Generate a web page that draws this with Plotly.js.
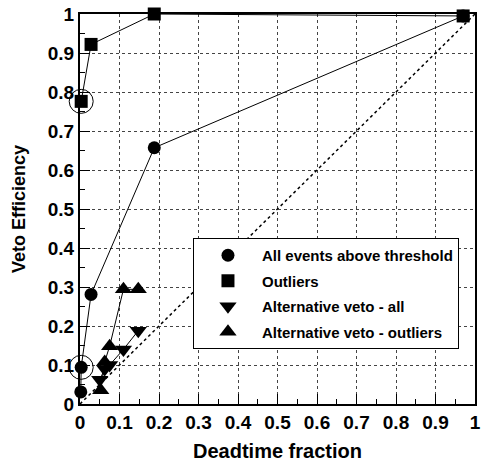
<!DOCTYPE html>
<html>
<head>
<meta charset="utf-8">
<script src="https://cdn.plot.ly/plotly-3.0.1.min.js"></script>
<style>html,body{margin:0;padding:0;background:#fff;}#chart{width:482px;height:462px;}</style>
</head>
<body>
<div id="chart"></div>
<script>
// Data
const allX = [0.002, 0.003, 0.028, 0.188, 0.970];
const allY = [0.031, 0.094, 0.281, 0.657, 0.995];
const outX = [0.003, 0.028, 0.188, 0.970];
const outY = [0.776, 0.922, 1.000, 0.995];
const altAllX = [0.050, 0.0625, 0.075, 0.110, 0.1475];
const altAllY = [0.062, 0.090, 0.100, 0.140, 0.188];
const altOutX = [0.0525, 0.0625, 0.075, 0.110, 0.1475];
const altOutY = [0.035, 0.108, 0.148, 0.294, 0.294];
const diagX = [0, 1];
const diagY = [0, 1];
const ringX = [0.003, 0.003];
const ringY = [0.776, 0.094];
const seriesNames = ["All events above threshold", "Outliers", "Alternative veto - all", "Alternative veto - outliers"];
const symbols = ["circle", "square", "triangle-down", "triangle-up"];
const tickVals = [0, 0.1, 0.2, 0.3, 0.4, 0.5, 0.6, 0.7, 0.8, 0.9, 1];

const FONT = "Liberation Sans, Arial, Helvetica, sans-serif";
const line = {color: "black", width: 1};
const sizes = [13, 13, 15, 15];

const dataSets = [[allX, allY], [outX, outY], [altAllX, altAllY], [altOutX, altOutY]];
const traces = [];
traces.push({x: diagX, y: diagY, mode: "lines", line: {color: "black", width: 1.5, dash: "3px,3px"}, showlegend: false, hoverinfo: "skip"});
dataSets.forEach((d, i) => {
  traces.push({x: d[0], y: d[1], mode: "lines+markers", line: line,
    marker: {symbol: symbols[i], size: sizes[i], color: "black"},
    showlegend: false, cliponaxis: false});
});
traces.push({x: ringX, y: ringY, mode: "markers", marker: {symbol: "circle-open", size: 24, color: "black", line: {width: 1}}, showlegend: false, cliponaxis: false});
// legend-only entries (marker without line)
seriesNames.forEach((n, i) => {
  traces.push({x: [null], y: [null], mode: "markers", name: n, legendgroup: "g" + i,
    marker: {symbol: symbols[i], size: sizes[i], color: "black"}, showlegend: true});
});

const axisCommon = {
  range: [0, 1], tickvals: tickVals, ticktext: tickVals.map(v => String(v)),
  showline: true, linecolor: "black", linewidth: 2, mirror: true,
  ticks: "inside", ticklen: 10, tickwidth: 1, tickcolor: "black",
  minor: {dtick: 0.05, ticks: "inside", ticklen: 5, tickcolor: "black", showgrid: false},
  showgrid: true, gridcolor: "#444", griddash: "dot", gridwidth: 1,
  zeroline: false, fixedrange: true, ticklabeloverflow: "allow",
  tickfont: {family: FONT, size: 19, color: "black", weight: "bold"}
};

const layout = {
  width: 482, height: 462,
  margin: {l: 80, r: 7, t: 14, b: 58},
  paper_bgcolor: "white", plot_bgcolor: "white",
  showlegend: true,
  legend: {x: 0.286, y: 0.4256, xanchor: "left", yanchor: "top",
    bgcolor: "white", bordercolor: "black", borderwidth: 1,
    itemwidth: 58, traceorder: "grouped", tracegroupgap: 3,
    font: {family: FONT, size: 15, color: "black", weight: "bold"}},
  xaxis: Object.assign({}, axisCommon, {
    title: {text: "Deadtime fraction", font: {family: FONT, size: 20, color: "black", weight: "bold"}, standoff: 14}
  }),
  yaxis: Object.assign({}, axisCommon, {
    title: {text: "Veto Efficiency", font: {family: FONT, size: 18, color: "black", weight: "bold"}, standoff: 17}
  })
};

Plotly.newPlot("chart", traces, layout, {staticPlot: true, displayModeBar: false});
</script>
</body>
</html>
